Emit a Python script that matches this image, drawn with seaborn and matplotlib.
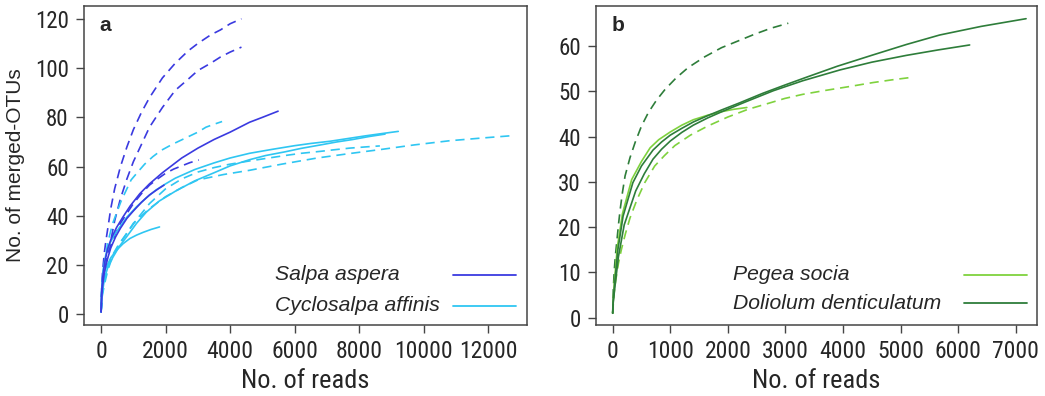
import matplotlib
matplotlib.use("Agg")
import matplotlib.pyplot as plt
import matplotlib.font_manager as fm
import seaborn as sns
import pandas as pd
from matplotlib.lines import Line2D

# ---------------- Panel a: Salpa aspera (blue) / Cyclosalpa affinis (cyan) ----------------
sa_dash1_reads = [0, 20, 50, 100, 150, 220, 300, 420, 600, 800, 1000, 1250, 1500, 1900, 2300, 2700, 3000, 3400, 3700, 4000, 4350]
sa_dash1_otus = [1, 12, 18, 25, 30, 36, 43, 51, 60, 68, 75, 82, 88, 96, 102, 107, 110, 113.5, 115.5, 118, 120]
sa_dash2_reads = [0, 20, 50, 100, 150, 220, 300, 420, 600, 800, 1000, 1250, 1500, 1900, 2300, 2700, 3000, 3400, 3700, 4000, 4350]
sa_dash2_otus = [1, 9, 13, 18, 22, 26, 30, 38, 47, 55, 62, 69, 76, 84, 91, 95.5, 99, 102, 104.5, 106.5, 108.5]
sa_dash3_reads = [0, 20, 50, 100, 150, 220, 300, 450, 600, 800, 1000, 1250, 1500, 1750, 2000, 2250, 2500, 2750, 3030]
sa_dash3_otus = [1, 8, 13, 18, 21, 24.5, 28, 33, 37, 41, 45, 49, 52.5, 55, 57.3, 59, 60.3, 61.6, 62.7]
sa_solid1_reads = [0, 20, 50, 110, 200, 320, 480, 680, 900, 1200, 1500, 1900, 2200, 2500, 3000, 3500, 4000, 4600, 5000, 5485]
sa_solid1_otus = [1, 9, 15, 21, 26.5, 31, 35.3, 39.6, 44, 49, 53, 57.5, 60.5, 63.5, 67.5, 71, 74, 78, 80, 82.5]
sa_solid2_reads = [0, 20, 50, 100, 150, 220, 300, 450, 600, 800, 1000, 1250, 1500, 1750, 1950]
sa_solid2_otus = [1, 8, 12, 17, 20, 23.5, 27, 31.5, 35, 39, 42, 45.5, 48.5, 50.8, 52.5]

ca_dash1_reads = [0, 20, 50, 100, 200, 360, 620, 930, 1150, 1350, 1600, 1850, 2200, 2600, 3000, 3250, 3500, 3750]
ca_dash1_otus = [1, 9, 14, 20, 28.8, 37, 46, 54.6, 58, 61, 64, 66.5, 69, 71.5, 74, 76, 77.2, 78.3]
ca_dash2_reads = [0, 30, 100, 200, 350, 550, 800, 1100, 1500, 2000, 2500, 3000, 3500, 4000, 4600, 5200, 5700, 6200, 6800, 7200, 7700, 8200, 8640]
ca_dash2_otus = [1, 8, 14, 19, 24, 28.5, 33, 38.5, 45, 51, 55, 57.8, 59.6, 61, 62.3, 63.5, 64.5, 65.4, 66.2, 66.8, 67.5, 68, 68.4]
ca_dash3_reads = [0, 30, 100, 200, 300, 500, 700, 1000, 1500, 2000, 2500, 3000, 3800, 4600, 5600, 6700, 7700, 8700, 9700, 10800, 11800, 12680]
ca_dash3_otus = [1, 7, 12, 17.5, 21.5, 27, 31, 37, 43, 47.8, 51.5, 54.6, 56.8, 58.5, 61, 63.5, 65.3, 67, 68.8, 70.5, 71.6, 72.5]
ca_solid1_reads = [0, 20, 60, 150, 270, 420, 580, 800, 1100, 1400, 1700, 2000, 2300, 2900, 3500, 4000, 4600, 5300, 6000, 6500, 7100, 7600, 8200, 8700, 9210]
ca_solid1_otus = [1, 10, 18, 24.5, 28.8, 32.5, 35.5, 39.5, 43.7, 47.3, 50.5, 53, 55.3, 58.8, 61.5, 63.5, 65.4, 67, 68.5, 69.4, 70.3, 71.3, 72.5, 73.4, 74.3]
ca_solid2_reads = [0, 30, 110, 220, 370, 560, 790, 1100, 1400, 1800, 2300, 2900, 3500, 4000, 4600, 5100, 5700, 6200, 6800, 7300, 7800, 8300, 8800]
ca_solid2_otus = [1, 8, 15, 19.5, 23.3, 27.5, 31.5, 37, 41.5, 46, 50, 54.2, 57.5, 60.3, 62.8, 64.5, 66, 67.4, 68.8, 70, 71, 72.2, 73.2]
ca_solid3_reads = [0, 10, 30, 80, 165, 300, 475, 680, 890, 1100, 1300, 1550, 1810]
ca_solid3_otus = [1, 7, 12, 16, 19.3, 23, 26, 28.7, 30.8, 32.2, 33.3, 34.5, 35.5]

# ---------------- Panel b: Pegea socia (light green) / Doliolum denticulatum (dark green) ----------------
ps_solid_reads = [0, 10, 30, 80, 170, 330, 500, 650, 800, 1000, 1200, 1400, 1650, 1900, 2100, 2330]
ps_solid_otus = [1, 4, 8, 15.5, 23, 30.5, 34.5, 37.5, 39.3, 41, 42.5, 43.7, 44.7, 45.5, 46, 46.4]
ps_dash_reads = [0, 20, 50, 100, 150, 220, 300, 420, 556, 730, 900, 1080, 1350, 1650, 2000, 2350, 2700, 2990, 3300, 3660, 4100, 4520, 4850, 5160]
ps_dash_otus = [1, 5, 8, 12, 15, 18.5, 22, 26, 29.8, 33.5, 35.8, 38, 40.3, 42.3, 44.3, 46, 47.3, 48.4, 49.3, 50.1, 51, 51.9, 52.5, 53]
dd_solid1_reads = [0, 10, 35, 90, 180, 350, 500, 700, 850, 1000, 1200, 1400, 1650, 1900, 2200, 2600, 3000, 3370, 3900, 4520, 5100, 5680, 6400, 7180]
dd_solid1_otus = [1, 4, 7.7, 15, 22.4, 29.8, 33.5, 37, 38.8, 40.3, 41.8, 43.2, 44.6, 45.9, 47.4, 49.5, 51.4, 53.1, 55.5, 58, 60.3, 62.4, 64.3, 66]
dd_solid2_reads = [0, 10, 40, 100, 200, 400, 550, 700, 850, 1000, 1200, 1400, 1650, 1900, 2300, 2790, 3300, 3950, 4500, 5100, 5650, 6200]
dd_solid2_otus = [1, 3.5, 7, 13.5, 20.5, 28, 31.8, 35, 37.2, 39, 40.9, 42.5, 44.1, 45.5, 47.6, 50.1, 52.3, 54.7, 56.4, 57.9, 59.1, 60.2]
dd_dash_reads = [0, 10, 25, 45, 70, 100, 130, 170, 215, 300, 390, 500, 620, 760, 910, 1100, 1310, 1600, 1890, 2200, 2470, 2750, 3050]
dd_dash_otus = [1, 6, 10, 13.5, 16.6, 20.5, 23.9, 27.7, 31.3, 35.3, 38.7, 42.3, 45.3, 48, 50.4, 52.9, 55.2, 57.6, 59.6, 61.2, 62.6, 63.9, 65]

species_a = ["Salpa aspera", "Cyclosalpa affinis"]
species_b = ["Pegea socia", "Doliolum denticulatum"]
xticks_a = [0, 2000, 4000, 6000, 8000, 10000, 12000]
yticks_a = [0, 20, 40, 60, 80, 100, 120]
xticks_b = [0, 1000, 2000, 3000, 4000, 5000, 6000, 7000]
yticks_b = [0, 10, 20, 30, 40, 50, 60]

colors = {
    "Salpa aspera": "#3a3ae0",
    "Cyclosalpa affinis": "#2fc6f2",
    "Pegea socia": "#7fd23e",
    "Doliolum denticulatum": "#2e7d3a",
}

curves_a = [
    (sa_dash1_reads, sa_dash1_otus, "Salpa aspera", True),
    (sa_dash2_reads, sa_dash2_otus, "Salpa aspera", True),
    (sa_dash3_reads, sa_dash3_otus, "Salpa aspera", True),
    (ca_dash1_reads, ca_dash1_otus, "Cyclosalpa affinis", True),
    (ca_dash2_reads, ca_dash2_otus, "Cyclosalpa affinis", True),
    (ca_dash3_reads, ca_dash3_otus, "Cyclosalpa affinis", True),
    (ca_solid1_reads, ca_solid1_otus, "Cyclosalpa affinis", False),
    (ca_solid2_reads, ca_solid2_otus, "Cyclosalpa affinis", False),
    (ca_solid3_reads, ca_solid3_otus, "Cyclosalpa affinis", False),
    (sa_solid1_reads, sa_solid1_otus, "Salpa aspera", False),
    (sa_solid2_reads, sa_solid2_otus, "Salpa aspera", False),
]
curves_b = [
    (dd_dash_reads, dd_dash_otus, "Doliolum denticulatum", True),
    (ps_dash_reads, ps_dash_otus, "Pegea socia", True),
    (ps_solid_reads, ps_solid_otus, "Pegea socia", False),
    (dd_solid1_reads, dd_solid1_otus, "Doliolum denticulatum", False),
    (dd_solid2_reads, dd_solid2_otus, "Doliolum denticulatum", False),
]

sns.set_style("white")
plt.rcParams["font.family"] = ["Liberation Sans", "DejaVu Sans"]

# pick a condensed face for the axis numbers if one is installed
_names = {f.name for f in fm.fontManager.ttflist}
_narrow = None
for cand in ["Liberation Sans Narrow", "Arial Narrow", "Roboto Condensed",
             "Open Sans Condensed", "DejaVu Sans Condensed"]:
    if cand in _names:
        _narrow = cand
        break
if _narrow:
    TICKFONT = dict(family=[_narrow, "Liberation Sans"], x=17, y=16.5, lab=19)
else:
    TICKFONT = dict(family=["Liberation Sans", "DejaVu Sans"], x=14.5, y=14, lab=17)

fig = plt.figure(figsize=(10.45, 3.96), dpi=100)
W, H = 1045, 396
ax_a = fig.add_axes([84 / W, (H - 325) / H, 443 / W, 319 / H])
ax_b = fig.add_axes([596 / W, (H - 325) / H, 441 / W, 319 / H])

FRAME = "#454545"


def draw(ax, curves):
    for reads, otus, sp, dashed in curves:
        df = pd.DataFrame({"reads": reads, "otus": otus})
        kw = dict(dashes=(5.5, 3.5)) if dashed else {}
        sns.lineplot(data=df, x="reads", y="otus", ax=ax, color=colors[sp],
                     linewidth=1.2, estimator=None, sort=False, **kw)


def style(ax, xticks, yticks, xlim, ylim, letter):
    ax.set_xlim(*xlim)
    ax.set_ylim(*ylim)
    ax.set_xticks(xticks)
    ax.set_yticks(yticks)
    ax.set_xticklabels([str(t) for t in xticks], family=TICKFONT["family"],
                       fontsize=TICKFONT["x"])
    ax.set_yticklabels([str(t) for t in yticks], family=TICKFONT["family"],
                       fontsize=TICKFONT["y"])
    ax.set_xlabel("No. of reads", fontsize=TICKFONT["lab"],
                  family=TICKFONT["family"], labelpad=4)
    ax.set_ylabel("")
    for s in ax.spines.values():
        s.set_visible(True)
        s.set_color(FRAME)
        s.set_linewidth(1.1)
    ax.tick_params(axis="both", direction="out", length=6, width=1, color=FRAME,
                   bottom=True, left=True)
    ax.tick_params(axis="x", pad=5)
    ax.tick_params(axis="y", pad=5)
    ax.text(0.035, 0.94, letter, transform=ax.transAxes, fontsize=15,
            fontweight="bold", ha="left", va="center")


draw(ax_a, curves_a)
draw(ax_b, curves_b)

style(ax_a, xticks_a, yticks_a, (-530, 13200), (-4.3, 125.2), "a")
style(ax_b, xticks_b, yticks_b, (-290, 7370), (-1.6, 68.8), "b")
ax_a.set_ylabel("No. of merged-OTUs", fontsize=15, family=["Liberation Sans", "DejaVu Sans"],
                labelpad=7)


# legends (text left, line to the right, as in the original)
def legend(ax, species, tx, lx0, lx1, ys):
    for sp, y in zip(species, ys):
        ax.text(tx, y, sp, transform=ax.transAxes, fontsize=15.2, style="italic",
                ha="left", va="center")
        ax.add_line(Line2D([lx0, lx1], [y, y], transform=ax.transAxes,
                           color=colors[sp], linewidth=1.3))


legend(ax_a, species_a, 0.431, 0.833, 0.975, [0.158, 0.060])
legend(ax_b, species_b, 0.311, 0.834, 0.977, [0.158, 0.068])

fig.savefig("out.png", dpi=100)
